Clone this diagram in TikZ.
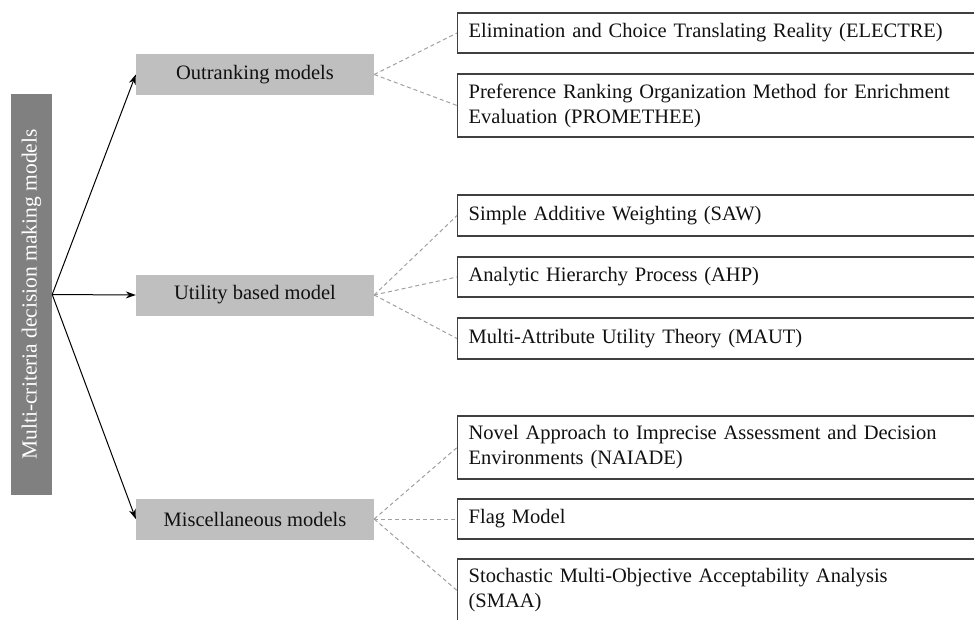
\documentclass[tikz,border=0pt]{standalone}
\usepackage{fontspec}
\setmainfont{Liberation Serif}
\usetikzlibrary{arrows.meta}
\definecolor{darkbox}{HTML}{808080}
\definecolor{lightbox}{HTML}{BFBFBF}
\definecolor{dashgray}{HTML}{A0A0A0}
\definecolor{boxline}{HTML}{404040}
\definecolor{txt}{HTML}{111111}
\begin{document}
\begin{tikzpicture}[x=1pt,y=-1pt,
  every node/.style={font=\fontsize{20.5}{25}\selectfont, text=txt},
  rootbox/.style={fill=darkbox, draw=none, minimum width=41pt, minimum height=401pt, inner sep=0pt},
  catbox/.style={fill=lightbox, draw=none, minimum width=238pt, minimum height=41pt, inner sep=0pt},
  leafbox/.style={draw=boxline, line width=1.3pt, anchor=west, minimum width=530pt,
    text width=508pt, inner xsep=11pt, inner ysep=0pt, align=left},
  arr/.style={-{Stealth[length=10pt,width=7pt]}, line width=1pt, black},
  dline/.style={dashgray, line width=1pt, dash pattern=on 4pt off 3pt}
]
\clip (0,0) rectangle (974,619);
\fill[white] (0,0) rectangle (974,619);

\node[rootbox] (root) at (31.5,294.5) {};
\node[rotate=90, text=white, font=\fontsize{21.5}{26}\selectfont] (roottext) at (31.5,294.5) {Multi-criteria decision making models};

\node[catbox] (out) at (255,74.5) {Outranking models};
\node[catbox] (util) at (255,295) {Utility based model};
\node[catbox] (misc) at (255,519) {Miscellaneous models};

\draw[arr] (root.east) -- (out.west);
\draw[arr] (root.east) -- (util.west);
\draw[arr] (root.east) -- (misc.west);

\node[leafbox, minimum height=40pt] (electre) at (457,33) {Elimination and Choice Translating Reality (ELECTRE)};
\node[leafbox, minimum height=63pt] (prom) at (457,105.5) {Preference Ranking Organization Method for Enrichment\\Evaluation (PROMETHEE)};
\node[leafbox, minimum height=41pt] (saw) at (457,215.5) {Simple Additive Weighting (SAW)};
\node[leafbox, minimum height=40pt] (ahp) at (457,277) {Analytic Hierarchy Process (AHP)};
\node[leafbox, minimum height=41pt] (maut) at (457,338.5) {Multi-Attribute Utility Theory (MAUT)};
\node[leafbox, minimum height=63pt] (naiade) at (457,447.5) {Novel Approach to Imprecise Assessment and Decision\\Environments (NAIADE)};
\node[leafbox, minimum height=40pt] (flag) at (457,519) {Flag Model};
\node[leafbox, minimum height=63pt] (smaa) at (457,590.5) {Stochastic Multi-Objective Acceptability Analysis\\(SMAA)};

\draw[dline] (out.east) -- (electre.west);
\draw[dline] (out.east) -- (prom.west);
\draw[dline] (util.east) -- (saw.west);
\draw[dline] (util.east) -- (ahp.west);
\draw[dline] (util.east) -- (maut.west);
\draw[dline] (misc.east) -- (naiade.west);
\draw[dline] (misc.east) -- (flag.west);
\draw[dline] (misc.east) -- (smaa.west);
\end{tikzpicture}
\end{document}
